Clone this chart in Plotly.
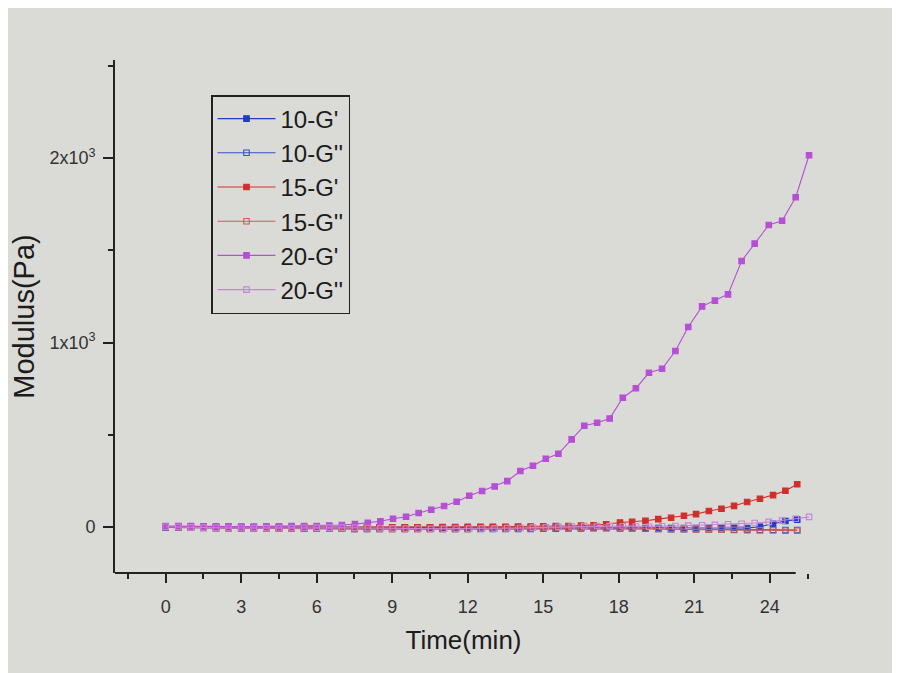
import plotly.graph_objects as go

# ---- data ----
time_20 = [0, 0.5, 1, 1.5, 2, 2.5, 3, 3.5, 4, 4.5, 5, 5.5, 6, 6.5, 7.0,
           7.52, 8.03, 8.53, 9.03, 9.55, 10.05, 10.55, 11.06, 11.56, 12.06,
           12.57, 13.07, 13.57, 14.09, 14.59, 15.10, 15.60, 16.13, 16.63,
           17.14, 17.64, 18.16, 18.68, 19.20, 19.72, 20.25, 20.76, 21.31,
           21.82, 22.34, 22.88, 23.40, 23.96, 24.49, 25.03, 25.56]

time_10_15 = [0, 0.5, 1, 1.5, 2, 2.5, 3, 3.5, 4, 4.5, 5, 5.5, 6, 6.5, 7,
              7.5, 8, 8.5, 9, 9.5, 10, 10.5, 11, 11.5, 12, 12.5, 13, 13.5,
              14, 14.5, 15, 15.5, 16, 16.5, 17, 17.5,
              18.05, 18.53, 19.06, 19.57, 20.08, 20.59, 21.07, 21.58, 22.08,
              22.58, 23.10, 23.61, 24.13, 24.62, 25.09]

g20_prime = [6, 5, 5, 4, 4, 4, 3, 3, 4, 4, 5, 5, 6, 8, 11,
             16, 23, 31, 45, 56, 76, 94, 114, 137, 170, 195, 220, 249, 304,
             332, 370, 397, 475, 549, 565, 588, 701, 752, 836, 858, 954,
             1084, 1196, 1227, 1261, 1442, 1536, 1637, 1660, 1787, 2015]
g20_dprime = [2, 0, -2, -3, -4, -5, -5, -6, -6, -5, -5, -4, -4, -3, -3,
              -4, -5, -6, -7, -8, -8, -9, -9, -8, -8, -7, -7, -6, -5, -3,
              -1, 1, 3, 5, 6, 5, 4, 3, 2, 4, 6, 8, 10, 12, 15, 18, 22, 28,
              35, 45, 55]

g15_prime = [3, 2, 2, 1, 1, 0, 0, -1, -1, -2, -2, -2, -3, -3, -3, -3, -3,
             -2, -2, -2, -1, -1, 0, 0, 1, 1, 2, 2, 3, 3, 4, 5, 6, 8, 10, 15,
             25, 28, 34, 43, 50, 61, 70, 87, 99, 115, 136, 153, 173, 197, 232]
g15_dprime = [0, -2, -3, -4, -5, -6, -6, -7, -7, -8, -8, -8, -9, -9, -9,
              -10, -10, -10, -10, -10, -10, -10, -10, -10, -10, -9, -9, -8,
              -8, -7, -6, -5, -4, -3, -2, -2, -4, -6, -8, -10, -11, -12, -13,
              -14, -15, -16, -17, -18, -19, -20, -20]

g10_prime = [1, 1, 0, 0, -1, -1, -1, -2, -2, -2, -2, -3, -3, -3, -3, -3,
             -3, -3, -3, -3, -3, -3, -3, -3, -3, -3, -3, -3, -3, -3, -3, -3,
             -4, -4, -4, -4, -4, -4, -5, -5, -5, -5,
             -5, -5, -5, -4, -5, 2, 18, 33, 40]
g10_dprime = [-2, -3, -4, -5, -6, -6, -7, -7, -8, -8, -8, -9, -9, -9, -9,
              -10, -10, -10, -10, -10, -10, -10, -10, -10, -10, -10, -10,
              -10, -10, -10, -9, -9, -8, -7, -6, -6, -7, -8, -9, -10, -11,
              -12, -12, -13, -13, -14, -14, -15, -15, -16, -16]

x_ticks = [0, 3, 6, 9, 12, 15, 18, 21, 24]
y_ticks = [0, 1000, 2000]
y_ticktext = ["0", "1x10<sup>3</sup>", "2x10<sup>3</sup>"]

# ---- styles ----
BG = "#dadad6"
FONT = "Liberation Sans, Arial, sans-serif"
TXT = "#1c1c1c"

series = [
    ("10-G'", time_10_15, g10_prime, "#1f3cc4", "square"),
    ("10-G''", time_10_15, g10_dprime, "#3550c8", "square-open"),
    ("15-G'", time_10_15, g15_prime, "#cf2f2a", "square"),
    ("15-G''", time_10_15, g15_dprime, "#cf5a5a", "square-open"),
    ("20-G'", time_20, g20_prime, "#b64ed6", "square"),
    ("20-G''", time_20, g20_dprime, "#c585d8", "square-open"),
]

fig = go.Figure()
for name, t, v, col, sym in series:
    fig.add_trace(go.Scatter(
        x=t, y=v, name=name, mode="lines+markers",
        line=dict(color=col, width=1.1),
        marker=dict(symbol=sym, size=5.5, color=col,
                    line=dict(color=col, width=1.1)),
        cliponaxis=False,
    ))

X0, X1 = -2.014, 25.677
# page is offset by 8px body margin; figure sized to fit the window
W, H = 892, 665
L, R, T, B = 107, 88, 52, 100
pw, ph = W - L - R, H - T - B
fig.update_layout(
    width=W, height=H,
    paper_bgcolor=BG, plot_bgcolor=BG,
    margin=dict(l=L, r=R, t=T, b=B),
    font=dict(family=FONT, color=TXT, size=17),
    showlegend=True,
    legend=dict(
        x=(203 - L) / pw, y=(565 - 87) / ph,
        xanchor="left", yanchor="top",
        bgcolor="rgba(0,0,0,0)", bordercolor="#222222", borderwidth=1.5,
        font=dict(family=FONT, size=24, color=TXT),
        tracegroupgap=0, itemwidth=58,
    ),
    xaxis=dict(
        range=[X0, X1], showgrid=False, zeroline=False, showline=False,
        tickvals=x_ticks, ticks="outside", ticklen=9, tickwidth=1.5,
        tickcolor="#222222", ticklabelstandoff=8,
        tickfont=dict(size=18, color="#333333"),
        minor=dict(dtick=1.5, tick0=0, ticks="outside", ticklen=5,
                   tickwidth=1.5, tickcolor="#222222"),
        title=dict(text="Time(min)", font=dict(size=26, color=TXT),
                   standoff=15),
    ),
    yaxis=dict(
        range=[-249, 2531], showgrid=False, zeroline=False,
        showline=True, linecolor="#222222", linewidth=1.8,
        tickvals=y_ticks, ticktext=y_ticktext,
        ticks="outside", ticklen=10, tickwidth=1.5, tickcolor="#222222",
        ticklabelstandoff=4,
        tickfont=dict(size=18, color="#333333"),
        minor=dict(dtick=500, tick0=0, ticks="outside", ticklen=5,
                   tickwidth=1.5, tickcolor="#222222"),
        title=dict(text="Modulus(Pa)", font=dict(size=29, color=TXT),
                   standoff=9),
    ),
    shapes=[dict(type="line", xref="x", yref="paper",
                 x0=X0, x1=25.03, y0=0, y1=0,
                 line=dict(color="#222222", width=1.8))],
)

fig.write_html("out.html")
